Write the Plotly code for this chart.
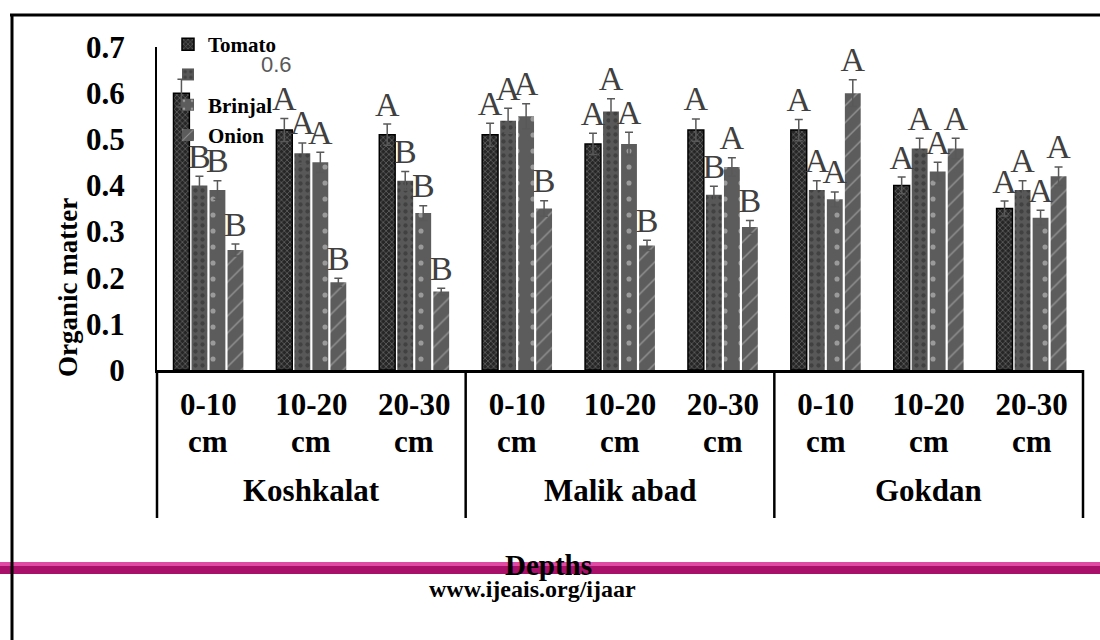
import plotly.graph_objects as go

# ---- data ----
sites = ["Koshkalat", "Malik abad", "Gokdan"]
depths = ["0-10", "10-20", "20-30"]
depth_unit = "cm"

series_names = ["Tomato", " ", "Brinjal", "Onion"]

tomato = [0.60, 0.52, 0.51, 0.51, 0.49, 0.52, 0.52, 0.40, 0.35]
series2 = [0.40, 0.47, 0.41, 0.54, 0.56, 0.38, 0.39, 0.48, 0.39]
brinjal = [0.39, 0.45, 0.34, 0.55, 0.49, 0.44, 0.37, 0.43, 0.33]
onion = [0.26, 0.19, 0.17, 0.35, 0.27, 0.31, 0.60, 0.48, 0.42]

tomato_err = [0.030, 0.025, 0.023, 0.025, 0.023, 0.024, 0.023, 0.018, 0.016]
series2_err = [0.020, 0.022, 0.020, 0.027, 0.028, 0.018, 0.020, 0.022, 0.020]
brinjal_err = [0.020, 0.022, 0.016, 0.027, 0.025, 0.020, 0.016, 0.020, 0.016]
onion_err = [0.013, 0.009, 0.007, 0.017, 0.011, 0.014, 0.029, 0.022, 0.020]

tomato_lbl = ["", "A", "A", "A", "A", "A", "A", "A", "A"]
series2_lbl = ["B", "A", "B", "A", "A", "B", "A", "A", "A"]
brinjal_lbl = ["B", "A", "B", "A", "A", "A", "A", "A", "A"]
onion_lbl = ["B", "B", "B", "B", "B", "B", "A", "A", "A"]

keys = [f"{s}|{d}" for s in sites for d in depths]
site_keys = [f"{s}|{depths[1]}" for s in sites]

SERIF = "Liberation Serif"

styles = [
    dict(color="#262626", pattern=dict(shape="x", fgcolor="#a0a0a0", size=4, solidity=0.35),
         line=dict(color="black", width=1.5)),
    dict(color="#585858", pattern=dict(shape=".", fgcolor="#2a2a2a", size=7, solidity=0.3),
         line=dict(width=0)),
    dict(color="#5c5c5c", pattern=dict(shape=".", fgcolor="#d8d8d8", size=16, solidity=0.08),
         line=dict(width=0)),
    dict(color="#5c5c5c", pattern=dict(shape="/", fgcolor="#c8c8c8", size=12, solidity=0.12),
         line=dict(width=0)),
]

values = [tomato, series2, brinjal, onion]
errors = [tomato_err, series2_err, brinjal_err, onion_err]
letters = [tomato_lbl, series2_lbl, brinjal_lbl, onion_lbl]

fig = go.Figure()

for i, (name, v, e) in enumerate(zip(series_names, values, errors)):
    fig.add_trace(go.Bar(
        name=name,
        x=keys,
        y=v,
        marker=styles[i],
        error_y=dict(type="data", array=e, color="#595959", thickness=1.5, width=4),
    ))

# significance letters, grouped like the bars
for i, (v, e, lbl) in enumerate(zip(values, errors, letters)):
    fig.add_trace(go.Scatter(
        x=keys,
        y=[a + b for a, b in zip(v, e)],
        text=lbl,
        mode="text",
        textposition="top center",
        textfont=dict(family=SERIF, size=34, color="#404040"),
        showlegend=False,
        cliponaxis=False,
        hoverinfo="skip",
    ))

# plot area in pixels: x 157..1083, y 47..370
W, H = 1100, 640
L, R, T, B = 157, 17, 47, 270
pw, ph = W - L - R, H - T - B


def px_x(x):
    return (x - L) / pw


def px_y(y):
    return (H - B - y) / ph


bold = dict(family=SERIF, color="black", weight="bold")

fig.update_layout(
    width=W, height=H,
    margin=dict(l=L, r=R, t=T, b=B),
    paper_bgcolor="white", plot_bgcolor="white",
    barmode="group", bargap=0.3, bargroupgap=0.12,
    scattermode="group", scattergap=0.3,
    showlegend=True,
    legend=dict(
        x=px_x(168), y=px_y(24), xanchor="left", yanchor="top",
        bgcolor="rgba(0,0,0,0)", traceorder="normal",
        font=dict(bold, size=21),
        itemwidth=30,
    ),
    xaxis=dict(
        type="category", categoryorder="array", categoryarray=keys,
        tickmode="array", tickvals=keys, ticktext=[d for s in sites for d in depths],
        tickfont=dict(bold, size=31),
        ticks="", ticklabelstandoff=5,
        showline=True, linecolor="black", linewidth=2.5, showgrid=False,
        range=[-0.5, 8.5],
    ),
    yaxis=dict(
        range=[0, 0.7], dtick=0.1,
        tickfont=dict(bold, size=31),
        ticks="", ticklabelstandoff=24,
        showline=True, linecolor="black", linewidth=2, showgrid=False, zeroline=False,
    ),
)

# second line of the depth labels and the site labels
for k in keys:
    fig.add_annotation(text=depth_unit, x=k, xref="x", yref="paper", y=px_y(442),
                       yanchor="middle", showarrow=False, font=dict(bold, size=31))
for k, s in zip(site_keys, sites):
    fig.add_annotation(text=s, x=k, xref="x", yref="paper", y=px_y(491),
                       yanchor="middle", showarrow=False, font=dict(bold, size=31))

# group dividers below the axis
for xp in [0, 1 / 3, 2 / 3, 1]:
    fig.add_shape(type="line", xref="paper", yref="paper",
                  x0=xp, x1=xp, y0=0, y1=px_y(518),
                  line=dict(color="black", width=2.5))

# page frame (top and left border)
fig.add_shape(type="line", xref="paper", yref="paper",
              x0=px_x(10), x1=px_x(1100), y0=px_y(15), y1=px_y(15),
              line=dict(color="black", width=3))
fig.add_shape(type="line", xref="paper", yref="paper",
              x0=px_x(12), x1=px_x(12), y0=px_y(14), y1=px_y(640),
              line=dict(color="black", width=3))

# magenta page rule
fig.add_shape(type="rect", xref="paper", yref="paper",
              x0=px_x(0), x1=px_x(1100), y0=px_y(566), y1=px_y(574),
              fillcolor="#a8106a", line=dict(width=0), layer="below")
fig.add_shape(type="rect", xref="paper", yref="paper",
              x0=px_x(0), x1=px_x(1100), y0=px_y(562), y1=px_y(566),
              fillcolor="#e04aa5", line=dict(width=0), layer="below")

fig.add_annotation(text="Organic matter", xref="paper", yref="paper",
                   x=px_x(68), y=px_y(288), xanchor="center", yanchor="middle",
                   textangle=-90, showarrow=False, font=dict(bold, size=27))
fig.add_annotation(text="Depths", xref="paper", yref="paper",
                   x=px_x(548), y=px_y(565), xanchor="center", yanchor="middle",
                   showarrow=False, font=dict(bold, size=29))
fig.add_annotation(text="www.ijeais.org/ijaar", xref="paper", yref="paper",
                   x=px_x(532), y=px_y(589), xanchor="center", yanchor="middle",
                   showarrow=False, font=dict(bold, size=24))
fig.add_annotation(text="0.6", xref="paper", yref="paper",
                   x=px_x(276), y=px_y(64), xanchor="center", yanchor="middle",
                   showarrow=False,
                   font=dict(family="Liberation Sans", size=22, color="#595959"))

fig.write_html("out.html", post_script="document.body.style.margin='0';",
               config={"displayModeBar": False})
